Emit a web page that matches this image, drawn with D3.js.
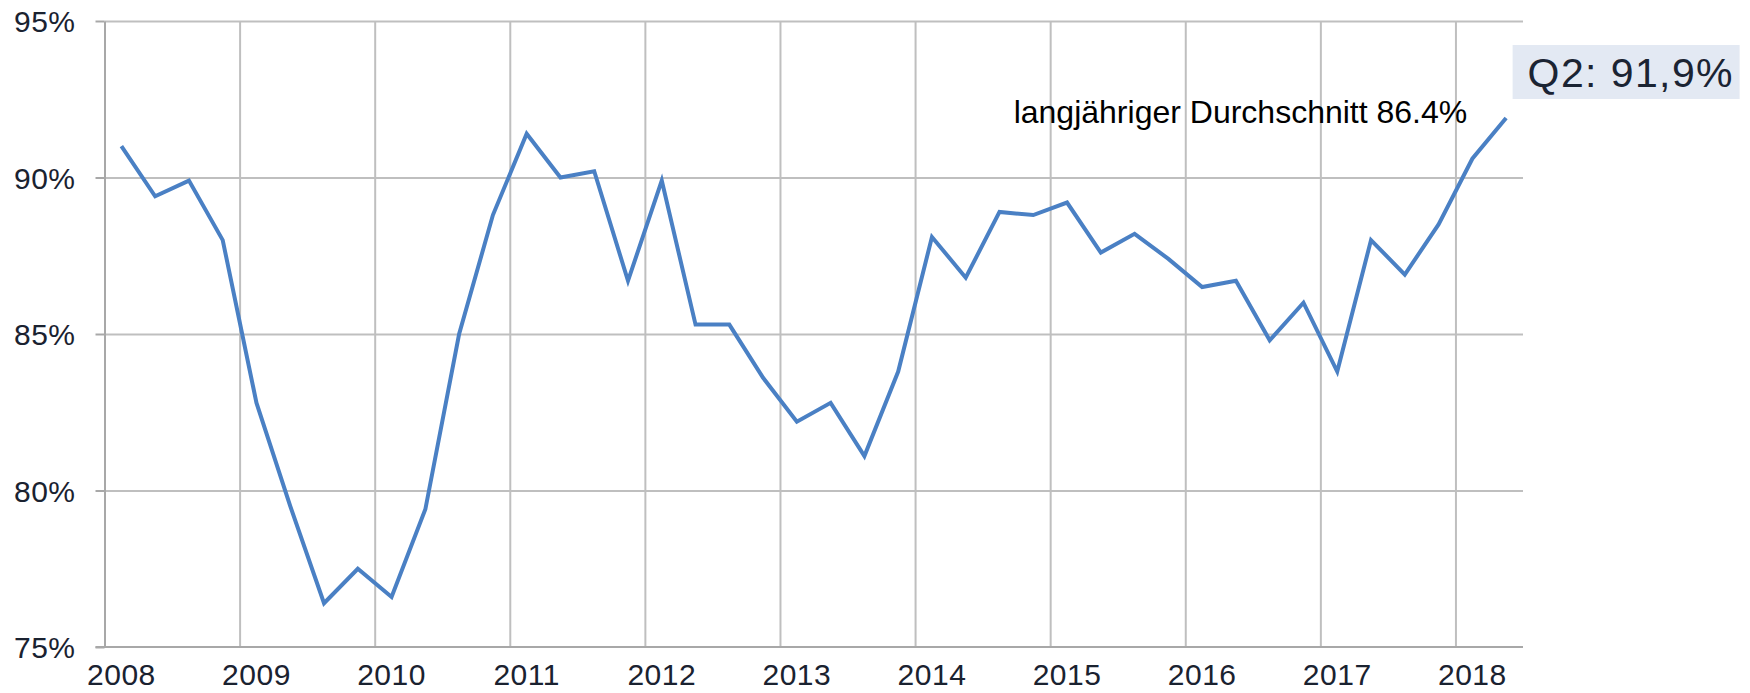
<!DOCTYPE html>
<html>
<head>
<meta charset="utf-8">
<script src="https://cdn.jsdelivr.net/npm/d3@7"></script>
<style>
  body { margin: 0; background: #fff; }
  text { font-family: "Liberation Sans", Arial, Helvetica, sans-serif; }
</style>
</head>
<body>
<div id="chart"></div>
<script>
// quarterly values, 2008 Q1 .. 2018 Q2 (percent)
const years = [2008, 2009, 2010, 2011, 2012, 2013, 2014, 2015, 2016, 2017, 2018];
const values = [
  91.0, 89.4, 89.9, 88.0,
  82.8, 79.5, 76.4, 77.5,
  76.6, 79.4, 85.0, 88.8,
  91.4, 90.0, 90.2, 86.7,
  89.9, 85.3, 85.3, 83.6,
  82.2, 82.8, 81.1, 83.8,
  88.1, 86.8, 88.9, 88.8,
  89.2, 87.6, 88.2, 87.4,
  86.5, 86.7, 84.8, 86.0,
  83.8, 88.0, 86.9, 88.5,
  90.6, 91.9
];
const yTicks = [75, 80, 85, 90, 95];
const avgLabel = "langjähriger Durchschnitt 86.4%";
const lastLabel = "Q2: 91,9%";

// set the dimensions and margins of the graph
const margin = {top: 21, right: 227, bottom: 46, left: 104.5},
    width = 1750 - margin.left - margin.right,
    height = 693 - margin.top - margin.bottom;

const svg = d3.select("#chart")
  .append("svg")
    .attr("width", 1750)
    .attr("height", 693)
  .append("g")
    .attr("transform", "translate(" + margin.left + "," + margin.top + ")");

// quarter -> fractional year (mid of quarter)
const data = values.map(function(v, i) {
  return {t: years[0] + Math.floor(i / 4) + (i % 4) * 0.25 + 0.125, v: v};
});

const x = d3.scaleLinear()
    .domain([2008, 2018.5])
    .range([0, width]);

const y = d3.scaleLinear()
    .domain([75, 95])
    .range([height, 0]);

// horizontal grid
svg.append("g")
    .attr("class", "grid")
    .call(d3.axisLeft(y).tickValues(yTicks.slice(1)).tickSize(-width).tickFormat(""))
    .call(g => g.select(".domain").remove())
    .selectAll("line")
      .attr("stroke", "#bfbfbf")
      .attr("stroke-width", 2);

// vertical grid
svg.append("g")
    .attr("class", "grid")
    .attr("transform", "translate(0," + height + ")")
    .call(d3.axisBottom(x).tickValues(years.slice(1)).tickSize(-height).tickFormat(""))
    .call(g => g.select(".domain").remove())
    .selectAll("line")
      .attr("stroke", "#bfbfbf")
      .attr("stroke-width", 2);

// Y axis
const yAxis = svg.append("g")
    .call(d3.axisLeft(y).tickValues(yTicks).tickSize(9).tickSizeOuter(0).tickPadding(20)
      .tickFormat(d => d + "%"));
yAxis.select(".domain").attr("stroke", "#a8a8a8").attr("stroke-width", 2);
yAxis.selectAll("line").attr("stroke", "#a8a8a8").attr("stroke-width", 2);
yAxis.selectAll("text")
    .attr("fill", "#1a2230")
    .style("font-size", "30px")
    .style("letter-spacing", "0.5px")
    .attr("dy", "0.35em");

// X axis line
svg.append("line")
    .attr("x1", -9)
    .attr("x2", width)
    .attr("y1", height)
    .attr("y2", height)
    .attr("stroke", "#a8a8a8")
    .attr("stroke-width", 2);

// X labels centred on first quarter of each year
svg.append("g")
  .selectAll("text")
  .data(years)
  .join("text")
    .attr("x", d => x(d + 0.125))
    .attr("y", height + 38)
    .attr("text-anchor", "middle")
    .attr("fill", "#1a2230")
    .style("font-size", "30px")
    .style("letter-spacing", "0.5px")
    .text(d => d);

// line
svg.append("path")
    .datum(data)
    .attr("fill", "none")
    .attr("stroke", "#4a80c4")
    .attr("stroke-width", 4)
    .attr("stroke-linejoin", "miter")
    .attr("d", d3.line()
      .x(d => x(d.t))
      .y(d => y(d.v)));

// annotation: long-term average
svg.append("text")
    .attr("x", x(2015) - 36.5)
    .attr("y", 102)
    .attr("fill", "#000")
    .style("font-size", "32px")
    .text(avgLabel);

// annotation: last value box
const last = data[data.length - 1];
const bx = x(last.t) + 6.5;
svg.append("rect")
    .attr("x", bx)
    .attr("y", 24)
    .attr("width", 227)
    .attr("height", 54)
    .attr("fill", "#e3e9f3");
svg.append("text")
    .attr("x", bx + 15)
    .attr("y", 66)
    .attr("fill", "#1b2433")
    .style("font-size", "41px")
    .style("letter-spacing", "1.4px")
    .text(lastLabel);
</script>
</body>
</html>
